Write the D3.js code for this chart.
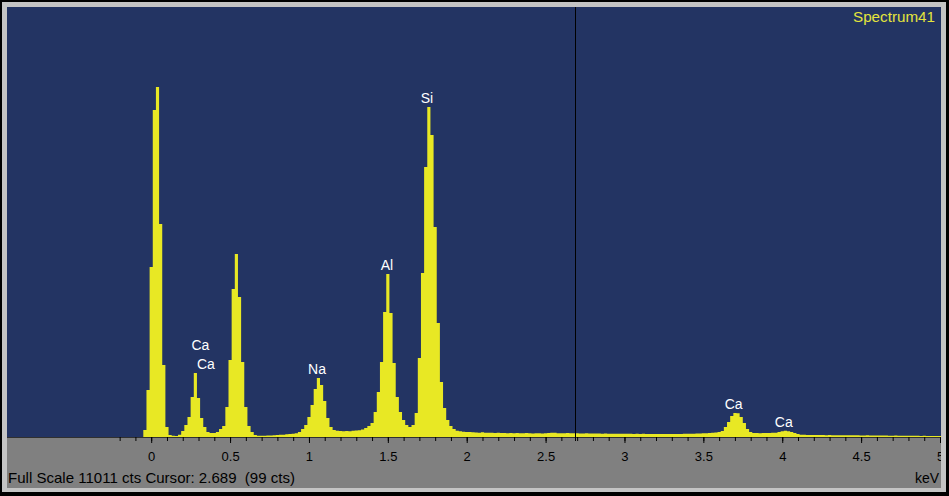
<!DOCTYPE html>
<html>
<head>
<meta charset="utf-8">
<script src="https://cdn.jsdelivr.net/npm/d3@7"></script>
<style>
  html, body { margin: 0; padding: 0; background: #000; }
  svg { display: block; }
  text { font-family: "Liberation Sans", Arial, sans-serif; }
</style>
</head>
<body>
<svg id="chart" width="949" height="496"></svg>
<script>
// ---------------- DATA ----------------
const spectrumName = "Spectrum41";
const fullScaleCounts = 11011;
const cursorKeV = 2.689;
const cursorCounts = 99;
const channelStartKeV = -0.04;   // centre of first channel
const channelWidthKeV = 0.02;    // 20 eV channels
// counts per channel, from -0.04 keV to 5.00 keV
const counts = [
  179, 1204,
  4353, 8373, 8962, 5454, 1844, 256, 51, 31, 28, 56,
  154, 307, 512, 1024, 1639, 999, 487, 256, 128, 102,
  105, 130, 205, 282, 768, 1972, 3790, 4686, 3585, 1921,
  768, 282, 128, 51, 33, 30, 35, 38, 40, 48,
  52, 55, 58, 70, 78, 84, 98, 125, 205, 307,
  512, 819, 1229, 1511, 1332, 922, 487, 256, 179, 160,
  152, 148, 155, 150, 158, 165, 175, 190, 230, 282,
  358, 640, 1152, 1921, 3201, 4174, 3175, 1895, 1024, 640,
  435, 307, 256, 307, 615, 2023, 4200, 6914, 8450, 7733,
  5377, 2919, 1408, 743, 435, 282, 205, 160, 150, 135,
  128, 125, 122, 118, 112, 120, 110, 108, 112, 104,
  106, 102, 105, 99, 103, 96, 101, 98, 94, 100,
  97, 92, 99, 95, 91, 98, 104, 112, 108, 96,
  94, 99, 102, 97, 99, 95, 92, 90, 93, 88,
  91, 87, 89, 85, 88, 84, 86, 83, 85, 82,
  84, 81, 83, 80, 82, 79, 81, 80, 78, 80,
  77, 79, 78, 76, 79, 77, 78, 80, 79, 81,
  83, 82, 85, 88, 92, 96, 98, 102, 108, 115,
  128, 154, 256, 384, 538, 615, 610, 512, 358, 205,
  128, 105, 100, 98, 100, 102, 104, 106, 112, 128,
  150, 160, 150, 125, 100, 78, 60, 55, 54, 52,
  53, 50, 51, 49, 48, 50, 47, 46, 48, 45,
  44, 46, 43, 42, 44, 41, 40, 42, 39, 38,
  40, 37, 36, 38, 35, 34, 36, 33, 32, 34,
  31, 30, 32, 29, 28, 30, 27, 26, 28, 25,
  24
];
// peak labels
const labelNames  = ["Ca", "Ca", "Na", "Al", "Si", "Ca", "Ca"];
const labelKeV    = [0.312, 0.347, 1.051, 1.494, 1.748, 3.692, 4.010];
const labelCounts = [1639, 1639, 1511, 4174, 8450, 615, 160];
const labelStack  = [1, 0, 0, 0, 0, 0, 0];
// axis
const majorTicks = [0, 0.5, 1, 1.5, 2, 2.5, 3, 3.5, 4, 4.5, 5];
const majorTickLabels = ["0", "0.5", "1", "1.5", "2", "2.5", "3", "3.5", "4", "4.5", "5"];
const minorTickStart = -0.2, minorTickStep = 0.1, minorTickEnd = 5.0;
const axisUnit = "keV";

// ---------------- LAYOUT ----------------
const W = 949, H = 496;
const plotL = 7, plotR = 941, plotT = 7, plotB = 437, axisB = 488;
const colors = {
  outer: "#000000", frame: "#c4c4c4", plot: "#233463",
  axisBg: "#808080", spectrum: "#e8e824", label: "#ffffff",
  title: "#e4e43c", text: "#000000"
};

const svg = d3.select("#chart");
svg.append("rect").attr("width", W).attr("height", H).attr("fill", colors.outer);
svg.append("rect").attr("x", 2).attr("y", 2).attr("width", 944).attr("height", 490).attr("fill", colors.frame);
svg.append("rect").attr("x", plotL).attr("y", plotT).attr("width", plotR - plotL).attr("height", plotB - plotT).attr("fill", colors.plot);
svg.append("rect").attr("x", plotL).attr("y", plotB).attr("width", plotR - plotL).attr("height", axisB - plotB).attr("fill", colors.axisBg);

const x = d3.scaleLinear().domain([-0.914, 5.0]).range([plotL, 940]);
const y = d3.scaleLinear().domain([0, fullScaleCounts]).range([plotB, plotT]);

const defs = svg.append("defs");
defs.append("clipPath").attr("id", "plotClip").append("rect")
  .attr("x", plotL).attr("y", plotT).attr("width", plotR - plotL).attr("height", plotB - plotT);
defs.append("clipPath").attr("id", "axisClip").append("rect")
  .attr("x", plotL).attr("y", plotB).attr("width", plotR - plotL).attr("height", axisB - plotB);

// spectrum as stepped area: each channel spans [centre - w/2, centre + w/2]
const steps = counts.map((c, i) => ({ e: channelStartKeV + i * channelWidthKeV - channelWidthKeV / 2, c }));
steps.push({ e: channelStartKeV + counts.length * channelWidthKeV - channelWidthKeV / 2, c: counts[counts.length - 1] });
const area = d3.area()
  .x(d => x(d.e))
  .y0(plotB)
  .y1(d => y(d.c))
  .curve(d3.curveStepAfter);
svg.append("path")
  .attr("clip-path", "url(#plotClip)")
  .attr("d", area(steps))
  .attr("fill", colors.spectrum);

// axis baseline
svg.append("line").attr("x1", plotL).attr("x2", plotR).attr("y1", plotB + 0.5).attr("y2", plotB + 0.5)
  .attr("stroke", "#303030").attr("stroke-width", 1);

// minor ticks
const minorVals = d3.range(Math.round(minorTickStart * 10), Math.round(minorTickEnd * 10) + 1).map(v => v / 10);
const axisG = svg.append("g").attr("clip-path", "url(#axisClip)");
const minorAxis = d3.axisBottom(x).tickValues(minorVals).tickSize(4).tickFormat("");
const gMinor = axisG.append("g").attr("transform", `translate(0,${plotB})`).call(minorAxis);
gMinor.select(".domain").remove();
gMinor.selectAll("line").attr("stroke", "#000");

const majorAxis = d3.axisBottom(x).tickValues(majorTicks).tickSize(6)
  .tickFormat((d, i) => majorTickLabels[i]);
const gMajor = axisG.append("g").attr("transform", `translate(0,${plotB})`).call(majorAxis);
gMajor.select(".domain").remove();
gMajor.selectAll("line").attr("stroke", "#000");
gMajor.selectAll("text")
  .attr("y", 23.5).attr("dy", null)
  .attr("fill", colors.text)
  .style("font-size", "13px")
  .style("font-family", "'Liberation Sans', Arial, sans-serif");

// cursor line
svg.append("line")
  .attr("x1", Math.round(x(cursorKeV)) + 0.5).attr("x2", Math.round(x(cursorKeV)) + 0.5)
  .attr("y1", plotT).attr("y2", plotB + 4)
  .attr("stroke", "#000").attr("stroke-width", 1);

// peak labels
svg.append("g").selectAll("text")
  .data(labelNames)
  .join("text")
  .attr("x", (d, i) => x(labelKeV[i]))
  .attr("y", (d, i) => y(labelCounts[i]) - 4 - labelStack[i] * 19)
  .attr("text-anchor", "middle")
  .attr("fill", colors.label)
  .style("font-size", "14px")
  .text(d => d);

// spectrum title
svg.append("text")
  .attr("x", 935).attr("y", 22)
  .attr("text-anchor", "end")
  .attr("fill", colors.title)
  .style("font-size", "14px")
  .attr("textLength", 82).attr("lengthAdjust", "spacingAndGlyphs")
  .text(spectrumName);

// status line
svg.append("text")
  .attr("x", 8).attr("y", 482.5)
  .attr("fill", colors.text)
  .style("font-size", "14.5px")
  .attr("textLength", 287).attr("lengthAdjust", "spacingAndGlyphs")
  .text(`Full Scale ${fullScaleCounts} cts Cursor: ${cursorKeV.toFixed(3)}  (${cursorCounts} cts)`)
  .style("white-space", "pre");

// unit label
svg.append("text")
  .attr("x", 939).attr("y", 482.5)
  .attr("text-anchor", "end")
  .attr("fill", colors.text)
  .style("font-size", "14px")
  .text(axisUnit);
</script>
</body>
</html>
